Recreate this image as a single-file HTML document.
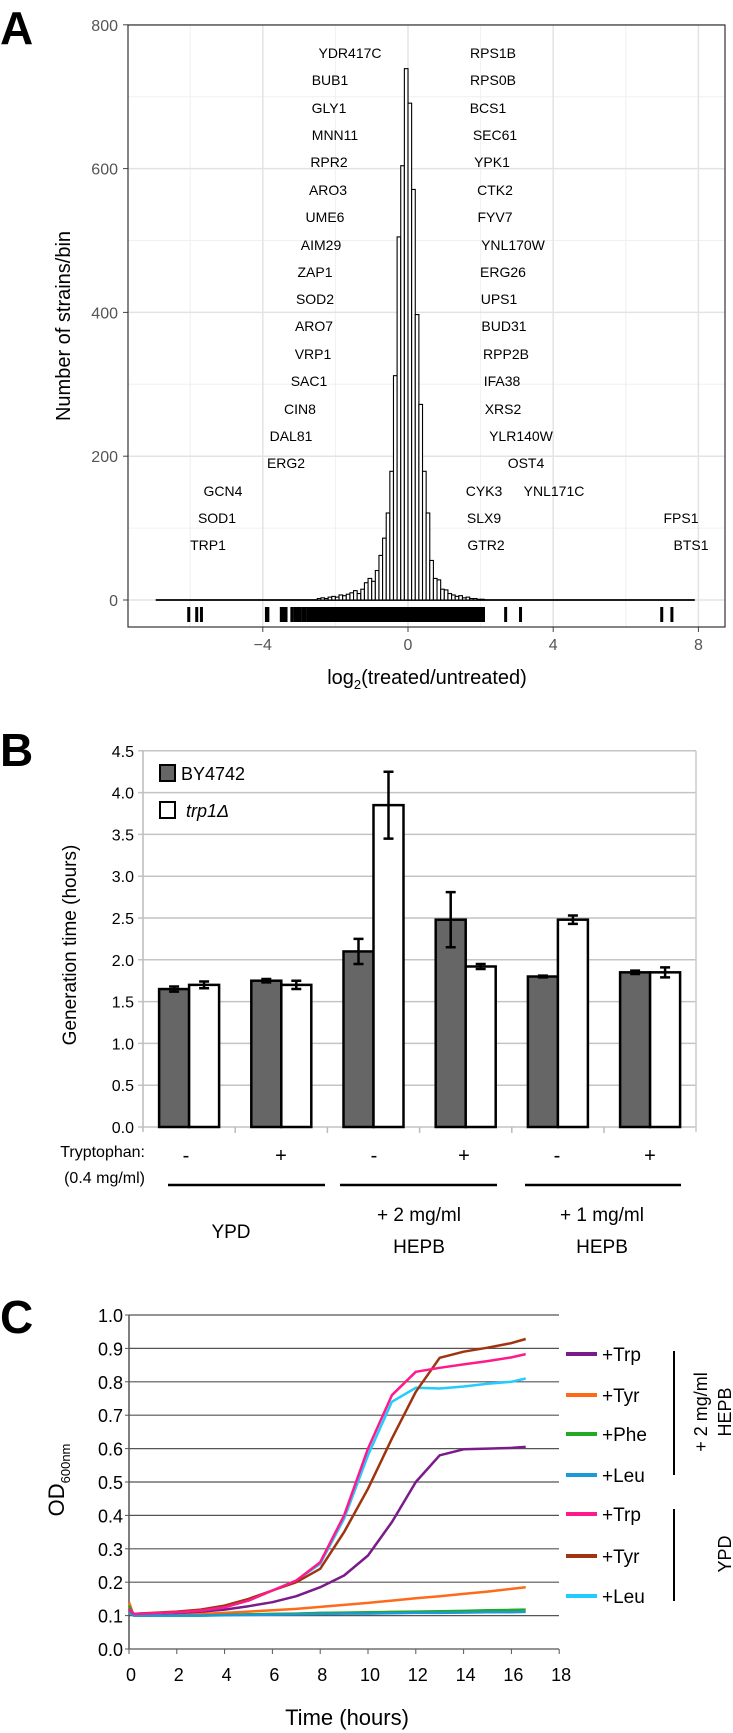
<!DOCTYPE html>
<html><head><meta charset="utf-8"><style>
body{margin:0;background:#fff}
svg{display:block;font-family:"Liberation Sans",Arial,sans-serif}
</style></head><body>
<svg id="s" width="733" height="1733" viewBox="0 0 733 1733" xmlns="http://www.w3.org/2000/svg"></svg>
<script>
// ---------- Panel A data ----------
const histStarts=[-2.5,-2.4,-2.3,-2.2,-2.1,-2.0,-1.9,-1.8,-1.7,-1.6,-1.5,-1.4,-1.3,-1.2,-1.1,-1.0,-0.9,-0.8,-0.7,-0.6,-0.5,-0.4,-0.3,-0.2,-0.1,0.0,0.1,0.2,0.3,0.4,0.5,0.6,0.7,0.8,0.9,1.0,1.1,1.2,1.3,1.4,1.5,1.6,1.7,1.8,1.9,2.0];
const histCounts=[2,3,2,4,5,4,7,6,8,10,13,9,15,24,30,26,41,62,86,121,179,312,505,604,739,691,571,397,272,179,121,55,30,28,15,14,9,7,5,6,3,4,2,2,1,1];
const rugValues=[-6.04,-5.82,-5.69,-3.9,-3.86,-3.49,-3.42,-3.36,-3.2,-3.12,-3.05,-2.98,-2.9,-2.84,-2.76,-2.7,-2.62,-2.55,-2.48,-2.42,-2.36,-2.3,-2.24,-2.18,-2.12,-2.06,-2.0,-1.94,-1.88,-1.82,-1.76,-1.7,-1.64,-1.58,-1.52,-1.46,-1.4,-1.34,-1.28,-1.22,-1.16,-1.1,-1.04,-0.98,-0.92,-0.86,-0.8,-0.74,-0.68,-0.62,-0.56,-0.5,-0.44,-0.38,-0.32,-0.26,-0.2,-0.14,-0.08,-0.02,0.04,0.1,0.16,0.22,0.28,0.34,0.4,0.46,0.52,0.58,0.64,0.7,0.76,0.82,0.88,0.94,1.0,1.06,1.12,1.18,1.24,1.3,1.36,1.42,1.48,1.54,1.6,1.66,1.72,1.78,1.84,1.9,1.96,2.02,2.08,2.69,3.1,6.99,7.27];
const xTicksA=[-4,0,4,8];
const yTicksA=[0,200,400,600,800];
const geneLabels=[["YDR417C",350,53],["BUB1",330,80],["GLY1",329,108],["MNN11",335,135],["RPR2",329,162],["ARO3",328,190],["UME6",325,217],["AIM29",321,245],["ZAP1",315,272],["SOD2",315,299],["ARO7",314,326],["VRP1",313,354],["SAC1",309,381],["CIN8",300,409],["DAL81",291,436],["ERG2",286,463],["GCN4",223,491],["SOD1",217,518],["TRP1",208,545],
["RPS1B",493,53],["RPS0B",493,80],["BCS1",488,108],["SEC61",495,135],["YPK1",492,162],["CTK2",495,190],["FYV7",495,217],["YNL170W",513,245],["ERG26",503,272],["UPS1",499,299],["BUD31",504,326],["RPP2B",506,354],["IFA38",502,381],["XRS2",503,409],["YLR140W",521,436],["OST4",526,463],["CYK3",484,491],["YNL171C",554,491],["SLX9",484,518],["GTR2",486,545],["FPS1",681,518],["BTS1",691,545]];
// ---------- Panel B data ----------
const groupsB=["YPD -","YPD +","2mg -","2mg +","1mg -","1mg +"];
const byValues=[1.65,1.75,2.1,2.48,1.8,1.85];
const byErr=[0.03,0.02,0.15,0.33,0.01,0.02];
const trpValues=[1.7,1.7,3.85,1.92,2.48,1.85];
const trpErr=[0.04,0.05,0.4,0.03,0.05,0.06];
const yTicksB=[0,0.5,1,1.5,2,2.5,3,3.5,4,4.5];
const trpSigns=["-","+","-","+","-","+"];
// ---------- Panel C data ----------
const timesC=[0,0.2,1,2,3,4,5,6,7,8,9,10,11,12,13,14,15,16,16.6];
const hepbTrp=[0.12,0.105,0.107,0.108,0.112,0.118,0.128,0.14,0.158,0.185,0.22,0.28,0.38,0.5,0.58,0.598,0.6,0.602,0.605];
const hepbTyr=[0.14,0.1,0.1,0.102,0.105,0.108,0.112,0.116,0.12,0.126,0.132,0.138,0.145,0.152,0.158,0.165,0.172,0.18,0.185];
const hepbPhe=[0.13,0.1,0.1,0.1,0.1,0.102,0.104,0.105,0.106,0.108,0.109,0.11,0.111,0.112,0.113,0.114,0.116,0.117,0.118];
const hepbLeu=[0.11,0.1,0.1,0.1,0.1,0.101,0.102,0.103,0.104,0.105,0.106,0.106,0.107,0.108,0.108,0.109,0.11,0.11,0.111];
const ypdTrp=[0.12,0.105,0.107,0.11,0.115,0.125,0.145,0.175,0.205,0.26,0.4,0.6,0.76,0.83,0.842,0.852,0.862,0.873,0.883];
const ypdTyr=[0.12,0.105,0.108,0.112,0.118,0.13,0.15,0.175,0.2,0.24,0.35,0.48,0.63,0.77,0.872,0.89,0.902,0.916,0.928];
const ypdLeu=[0.12,0.105,0.107,0.11,0.115,0.125,0.145,0.175,0.205,0.255,0.39,0.58,0.74,0.782,0.78,0.786,0.794,0.8,0.81];
const xTicksC=[0,2,4,6,8,10,12,14,16,18];
const yTicksC=[0,0.1,0.2,0.3,0.4,0.5,0.6,0.7,0.8,0.9,1.0];

const NS="http://www.w3.org/2000/svg";
const svg=document.getElementById('s');
function el(tag,a,p){const e=document.createElementNS(NS,tag);for(const k in a)e.setAttribute(k,a[k]);(p||svg).appendChild(e);return e;}
function txt(s,a,p){const e=el('text',a,p);e.textContent=s;return e;}

// ===== Panel A =====
const xA=v=>408+v*36.3, yA=c=>600-c*0.719;
let t=txt("A",{x:0,y:44,"font-size":46,"font-weight":"bold"});


const gA=el('g',{});


[-6,-2,2,6].forEach(v=>{const l=el('line',{x1:xA(v),x2:xA(v),y1:25,y2:627,stroke:"#f0f0f0","stroke-width":1},gA);});
[100,300,500,700].forEach(v=>{const l=el('line',{x1:128,x2:725,y1:yA(v),y2:yA(v),stroke:"#f0f0f0","stroke-width":1},gA);});
xTicksA.forEach(v=>{const l=el('line',{x1:xA(v),x2:xA(v),y1:25,y2:627,stroke:"#e3e3e3","stroke-width":1.5},gA);
 const tk=el('line',{x1:xA(v),x2:xA(v),y1:627,y2:632,stroke:"#444"},gA);
 const lb=txt(v<0?"\u2212"+(-v):String(v),{x:xA(v),y:650,"font-size":16,fill:"#555","text-anchor":"middle"},gA);});
yTicksA.forEach(v=>{const l=el('line',{x1:128,x2:725,y1:yA(v),y2:yA(v),stroke:"#e3e3e3","stroke-width":1.5},gA);
 const tk=el('line',{x1:123,x2:128,y1:yA(v),y2:yA(v),stroke:"#444"},gA);
 const lb=txt(String(v),{x:118,y:yA(v)+6,"font-size":16,fill:"#555","text-anchor":"end"},gA);});
const base=el('line',{x1:xA(-6.95),x2:xA(7.9),y1:yA(0),y2:yA(0),stroke:"#000","stroke-width":1.8},gA);


histStarts.forEach((s,i)=>{const r=el('rect',{x:xA(s),y:yA(histCounts[i]),width:xA(s+0.1)-xA(s),height:yA(0)-yA(histCounts[i]),fill:"#fff",stroke:"#000","stroke-width":1.1},gA);});
rugValues.forEach(v=>{const l=el('line',{x1:xA(v),x2:xA(v),y1:607,y2:622,stroke:"#000","stroke-width":3},gA);});
geneLabels.forEach(g=>{const lb=txt(g[0],{x:g[1],y:g[2]+5,"font-size":14,"text-anchor":"middle",fill:"#000"},gA);});
const fA=el('rect',{x:128,y:25,width:597,height:602,fill:"none",stroke:"#333","stroke-width":1.2},gA);


t=txt("Number of strains/bin",{x:0,y:0,"font-size":20,"text-anchor":"middle",transform:"translate(70,326) rotate(-90)"},gA);


t=el('text',{x:427,y:684,"font-size":20,"text-anchor":"middle"},gA);
t.innerHTML='log<tspan font-size="13" dy="5">2</tspan><tspan dy="-5">(treated/untreated)</tspan>';



// ===== Panel B =====
const yB=v=>1127-v*83.6, gx=i=>143+i*92.2;
t=txt("B",{x:0,y:766,"font-size":46,"font-weight":"bold"});


const gB=el('g',{});


yTicksB.forEach(v=>{const l=el('line',{x1:138,x2:696,y1:yB(v),y2:yB(v),stroke:"#c4c4c4","stroke-width":1.5},gB);
 const lb=txt(v.toFixed(1),{x:134,y:yB(v)+6,"font-size":16,"text-anchor":"end"},gB);});
let ax=el('line',{x1:143,x2:143,y1:yB(4.5),y2:1132,stroke:"#bbb","stroke-width":1.5},gB);


ax=el('line',{x1:696,x2:696,y1:yB(4.5),y2:1132,stroke:"#ccc","stroke-width":1.5},gB);


groupsB.forEach((g,i)=>{if(i>0){const tk=el('line',{x1:gx(i),x2:gx(i),y1:1127,y2:1133,stroke:"#bbb","stroke-width":1.5},gB);}
 const c=gx(i)+46.1;
 const r1=el('rect',{x:c-30,y:yB(byValues[i]),width:30,height:yB(0)-yB(byValues[i]),fill:"#666",stroke:"#000","stroke-width":2.5},gB);
 const r2=el('rect',{x:c,y:yB(trpValues[i]),width:30,height:yB(0)-yB(trpValues[i]),fill:"#fff",stroke:"#000","stroke-width":2.5},gB);
 [[c-15,byValues[i],byErr[i]],[c+15,trpValues[i],trpErr[i]]].forEach(e=>{const p=el('path',{d:`M${e[0]},${yB(e[1]+e[2])}V${yB(e[1]-e[2])}M${e[0]-5},${yB(e[1]+e[2])}H${e[0]+5}M${e[0]-5},${yB(e[1]-e[2])}H${e[0]+5}`,stroke:"#000","stroke-width":2.5,fill:"none"},gB);});
 const sg=txt(trpSigns[i],{x:[186,281,374,464,557,650][i],y:1162,"font-size":20,"text-anchor":"middle"},gB);});
let lg=el('rect',{x:160,y:765,width:15,height:16,fill:"#666",stroke:"#000","stroke-width":2},gB);


lg=txt("BY4742",{x:181,y:780,"font-size":18},gB);


lg=el('rect',{x:160,y:802,width:15,height:16,fill:"#fff",stroke:"#000","stroke-width":2},gB);


lg=el('text',{x:186,y:817,"font-size":18,"font-style":"italic"},gB);
lg.textContent="trp1\u0394";


t=txt("Generation time (hours)",{x:0,y:0,"font-size":19,"text-anchor":"middle",transform:"translate(76,945) rotate(-90)"},gB);


t=txt("Tryptophan:",{x:145,y:1157,"font-size":16,"text-anchor":"end"},gB);


t=txt("(0.4 mg/ml)",{x:145,y:1183,"font-size":16,"text-anchor":"end"},gB);


[[168,325],[340,497],[525,681]].forEach(s=>{const l=el('line',{x1:s[0],x2:s[1],y1:1185,y2:1185,stroke:"#000","stroke-width":2.5},gB);});
t=txt("YPD",{x:231,y:1238,"font-size":19,"text-anchor":"middle"},gB);


t=txt("+ 2 mg/ml",{x:419,y:1221,"font-size":19,"text-anchor":"middle"},gB);


t=txt("HEPB",{x:419,y:1253,"font-size":19,"text-anchor":"middle"},gB);


t=txt("+ 1 mg/ml",{x:602,y:1221,"font-size":19,"text-anchor":"middle"},gB);


t=txt("HEPB",{x:602,y:1253,"font-size":19,"text-anchor":"middle"},gB);



// ===== Panel C =====
const xC=v=>129+v*23.9, yC=v=>1649-v*334;
t=txt("C",{x:0,y:1333,"font-size":46,"font-weight":"bold"});


const gC=el('g',{});


yTicksC.forEach(v=>{if(v>0){const l=el('line',{x1:129,x2:559,y1:yC(v),y2:yC(v),stroke:"#555","stroke-width":1.2},gC);}
 const tk=el('line',{x1:125,x2:129,y1:yC(v),y2:yC(v),stroke:"#555"},gC);
 const lb=txt(v.toFixed(1),{x:123,y:yC(v)+7,"font-size":18,"text-anchor":"end"},gC);});
ax=el('line',{x1:129,x2:559,y1:yC(0),y2:yC(0),stroke:"#555","stroke-width":1.2},gC);


ax=el('line',{x1:129,x2:129,y1:yC(1),y2:yC(0),stroke:"#555","stroke-width":1.5},gC);


xTicksC.forEach(v=>{const tk=el('line',{x1:xC(v),x2:xC(v),y1:yC(0),y2:yC(0)+5,stroke:"#555"},gC);
 const lb=txt(String(v),{x:xC(v)+2,y:1681,"font-size":18,"text-anchor":"middle"},gC);});
const series=[["hepb-tyr",hepbTyr,"#ff6a1a"],["hepb-phe",hepbPhe,"#22aa22"],["hepb-leu",hepbLeu,"#1a9ad9"],["hepb-trp",hepbTrp,"#7b1a8a"],["ypd-leu",ypdLeu,"#22ccff"],["ypd-tyr",ypdTyr,"#a0340e"],["ypd-trp",ypdTrp,"#ff1a8c"]];
series.forEach(s=>{const d=timesC.map((tt,i)=>(i?"L":"M")+xC(tt).toFixed(1)+","+yC(s[1][i]).toFixed(1)).join("");
 const p=el('path',{d:d,fill:"none",stroke:s[2],"stroke-width":2.5,"stroke-linejoin":"round"},gC);});
const legC=[["+Trp","#7b1a8a",1354],["+Tyr","#ff6a1a",1395],["+Phe","#22aa22",1434],["+Leu","#1a9ad9",1475],["+Trp","#ff1a8c",1514],["+Tyr","#a0340e",1556],["+Leu","#22ccff",1596]];
legC.forEach(l=>{const ln=el('line',{x1:566,x2:597,y1:l[2],y2:l[2],stroke:l[1],"stroke-width":4},gC);
 const lb=txt(l[0],{x:602,y:l[2]+7,"font-size":19},gC);});
[[1351,1475],[1509,1601]].forEach(b=>{const l=el('line',{x1:674,x2:674,y1:b[0],y2:b[1],stroke:"#000","stroke-width":2},gC);});
t=txt("+ 2 mg/ml",{x:0,y:0,"font-size":18,"text-anchor":"middle",transform:"translate(707,1412) rotate(-90)"},gC);


t=txt("HEPB",{x:0,y:0,"font-size":18,"text-anchor":"middle",transform:"translate(731,1412) rotate(-90)"},gC);


t=txt("YPD",{x:0,y:0,"font-size":18,"text-anchor":"middle",transform:"translate(731,1554) rotate(-90)"},gC);


t=el('text',{x:0,y:0,"font-size":22,"text-anchor":"middle",transform:"translate(64,1480) rotate(-90)"},gC);
t.innerHTML='OD<tspan font-size="13" dy="6">600nm</tspan>';


t=txt("Time (hours)",{x:347,y:1725,"font-size":22,"text-anchor":"middle"},gC);


</script>
</body></html>
